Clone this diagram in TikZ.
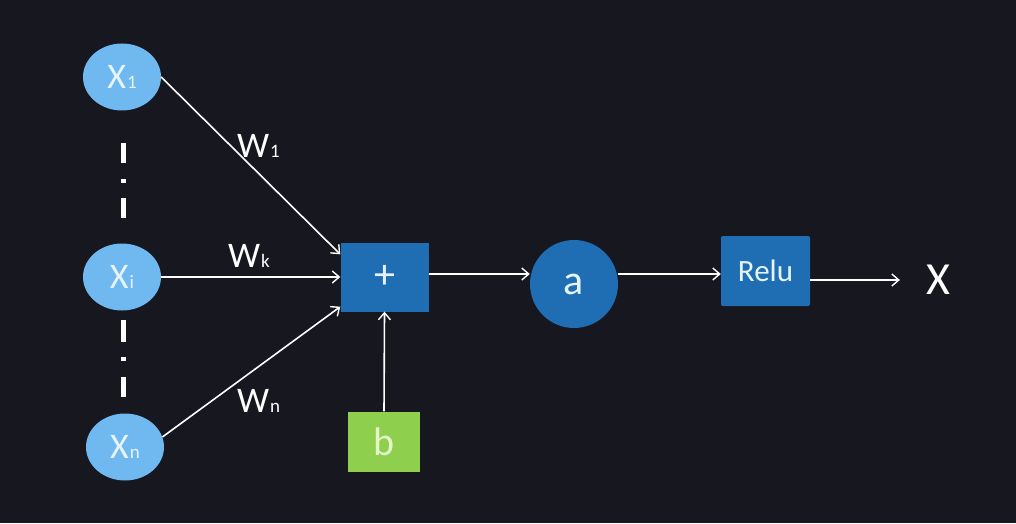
\documentclass[tikz,border=0pt]{standalone}
\usepackage{fontspec}
\setmainfont{Carlito}
\usetikzlibrary{arrows.meta,shapes.geometric}
\definecolor{bg}{HTML}{17171F}
\definecolor{inblue}{HTML}{70B8F0}
\definecolor{boxblue}{HTML}{1F6EB4}
\definecolor{bgreen}{HTML}{8ED04E}
\definecolor{txtin}{HTML}{E6F4FF}
\definecolor{txtg}{HTML}{E4F5C8}
\begin{document}
\begin{tikzpicture}[x=1pt,y=1pt,
  conn/.style={draw=white,line width=1.6pt,-{Straight Barb[length=7pt,width=12pt,line width=1.4pt]}},
  inp/.style={ellipse,fill=inblue,minimum width=78pt,minimum height=67pt,inner sep=0pt,text=txtin,font=\fontsize{36}{36}\selectfont},
  bluebox/.style={rectangle,fill=boxblue,inner sep=0pt,text=txtin},
  wlab/.style={anchor=base west,text=white,inner sep=0pt,font=\fontsize{36}{36}\selectfont},
  dashline/.style={draw=white,line width=5pt}
]
\fill[bg] (0,0) rectangle (1016,523);
\useasboundingbox (0,0) rectangle (1016,523);
\newcommand{\smallsub}[1]{\hspace{1pt}{\fontsize{19}{19}\selectfont #1}}
% inputs
\node[inp] (x1) at (122,446) {X\smallsub{1}};
\node[inp] (xk) at (122,246) {X\smallsub{i}};
\node[inp] (xn) at (125,76) {X\smallsub{n}};
% dots
\draw[dashline] (123,380) -- (123,360);
\draw[dashline] (123,344) -- (123,340);
\draw[dashline] (123,325) -- (123,305);
\draw[dashline] (123,203) -- (123,181);
\draw[dashline] (123,166) -- (123,162);
\draw[dashline] (123,146) -- (123,126);
% processing
\node[bluebox,minimum width=88pt,minimum height=69pt,font=\fontsize{42}{42}\selectfont] (plus) at (384.5,246) {+};
\node[rectangle,fill=bgreen,minimum width=72pt,minimum height=60pt,inner sep=0pt,text=txtg,font=\fontsize{40}{40}\selectfont] (b) at (384,81.5) {b};
\node[circle,fill=boxblue,minimum size=88pt,inner sep=0pt,text=txtin,font=\fontsize{42}{42}\selectfont] (a) at (574,239) {a};
\node[bluebox,rounded corners=2pt,minimum width=89pt,minimum height=70pt,font=\fontsize{31}{31}\selectfont] (relu) at (765.5,252) {Relu};
\node[text=white,inner sep=0pt,font=\fontsize{46}{46}\selectfont] (xout) at (938,243) {X};
% weight labels
\node[wlab] (w1) at (237,366) {W\smallsub{1}};
\node[wlab] (wk) at (228,256) {W\smallsub{k}};
\node[wlab] (wn) at (237,111) {W\smallsub{n}};
% connectors
\draw[conn] (x1.east) -- ([yshift=-12pt]plus.north west);
\draw[conn] (xk.east) -- (plus.west);
\draw[conn] (xn.15) -- ([yshift=5pt]plus.south west);
\draw[conn] (b.north) -- (plus.south);
\draw[conn] ([yshift=3pt]plus.east) -- ([yshift=3pt]plus.east -| a.west);
\draw[conn] ([yshift=10pt]a.east) -- ([yshift=10pt]a.east -| relu.west);
\draw[conn] (relu.east |- xout.west) -- ([xshift=-26pt]xout.west);
\end{tikzpicture}
\end{document}
